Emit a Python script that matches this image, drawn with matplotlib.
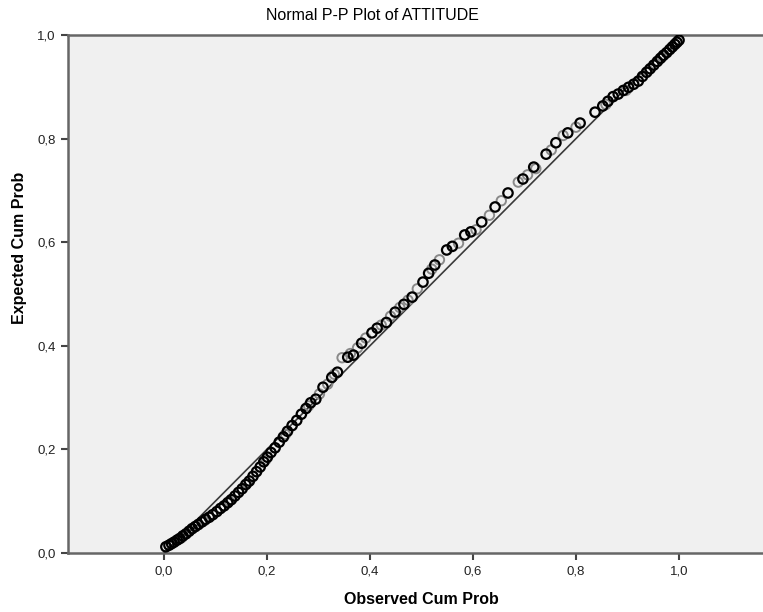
import matplotlib
matplotlib.use('Agg')
import matplotlib.pyplot as plt
from matplotlib.ticker import FixedLocator, FuncFormatter

plt.rcParams['font.family'] = ['Liberation Sans', 'DejaVu Sans']

# observed / expected cumulative probabilities
obs = [0.004, 0.010, 0.015, 0.020, 0.026, 0.031, 0.037, 0.043, 0.049, 0.055,
       0.061, 0.067, 0.074, 0.081, 0.088, 0.095, 0.103, 0.110, 0.117, 0.124,
       0.131, 0.138, 0.145, 0.152, 0.159, 0.166, 0.173, 0.180, 0.187, 0.194,
       0.201, 0.208, 0.216, 0.224, 0.232, 0.240, 0.249, 0.258, 0.267, 0.276,
       0.285, 0.295, 0.309, 0.326, 0.337, 0.357, 0.368, 0.384, 0.404, 0.414,
       0.432, 0.449, 0.466, 0.482, 0.503, 0.514, 0.526, 0.549, 0.560, 0.584,
       0.596, 0.617, 0.643, 0.668, 0.697, 0.718, 0.742, 0.761, 0.784, 0.808,
       0.837, 0.852, 0.862, 0.872, 0.882, 0.892, 0.902, 0.912, 0.921, 0.929,
       0.937, 0.944, 0.951, 0.958, 0.964, 0.970, 0.976, 0.982, 0.987, 0.992,
       0.996, 1.000]
exp = [0.012, 0.015, 0.018, 0.021, 0.025, 0.028, 0.033, 0.037, 0.042, 0.047,
       0.051, 0.055, 0.060, 0.065, 0.069, 0.074, 0.080, 0.086, 0.091, 0.097,
       0.103, 0.110, 0.117, 0.124, 0.132, 0.139, 0.148, 0.157, 0.166, 0.176,
       0.185, 0.194, 0.203, 0.214, 0.224, 0.235, 0.246, 0.256, 0.268, 0.279,
       0.290, 0.297, 0.320, 0.339, 0.349, 0.378, 0.382, 0.405, 0.425, 0.434,
       0.445, 0.465, 0.480, 0.494, 0.523, 0.540, 0.556, 0.585, 0.592, 0.614,
       0.620, 0.639, 0.668, 0.695, 0.722, 0.745, 0.770, 0.792, 0.811, 0.830,
       0.851, 0.863, 0.872, 0.881, 0.886, 0.893, 0.899, 0.905, 0.911, 0.920,
       0.928, 0.935, 0.942, 0.949, 0.955, 0.961, 0.966, 0.972, 0.977, 0.982,
       0.986, 0.990]

# fainter overlapping cases
obs_light = [0.035, 0.078, 0.127, 0.162, 0.198, 0.236, 0.281, 0.302, 0.318,
             0.331, 0.346, 0.362, 0.376, 0.392, 0.422, 0.440, 0.458, 0.474,
             0.492, 0.520, 0.535, 0.572, 0.606, 0.632, 0.655, 0.688, 0.706,
             0.722, 0.752, 0.775, 0.800, 0.858, 0.897, 0.940, 0.967]
exp_light = [0.030, 0.062, 0.100, 0.135, 0.180, 0.229, 0.284, 0.307, 0.326,
             0.345, 0.377, 0.385, 0.396, 0.415, 0.440, 0.457, 0.474, 0.488,
             0.510, 0.548, 0.566, 0.598, 0.624, 0.652, 0.680, 0.716, 0.730,
             0.742, 0.778, 0.806, 0.822, 0.866, 0.893, 0.931, 0.958]

ticks = [0.0, 0.2, 0.4, 0.6, 0.8, 1.0]

fig = plt.figure(figsize=(7.63, 6.12), dpi=100)
ax = fig.add_axes([68 / 763, 59 / 612, 1 - 68 / 763, 518 / 612])
ax.set_facecolor('#f0f0f0')

ax.plot([0, 1], [0, 1], color='#3a3a3a', linewidth=1.2, zorder=2)
ax.scatter(obs_light, exp_light, s=46, facecolors='none', edgecolors='#8a8a8a',
           linewidths=1.4, zorder=3)
ax.scatter(obs, exp, s=46, facecolors='none', edgecolors='black',
           linewidths=1.6, zorder=4)

ax.set_xlim(-0.186, 1.163)
ax.set_ylim(0, 1)
ax.xaxis.set_major_locator(FixedLocator(ticks))
ax.yaxis.set_major_locator(FixedLocator(ticks))
fmt = FuncFormatter(lambda v, p: f'{v:.1f}'.replace('.', ','))
ax.xaxis.set_major_formatter(fmt)
ax.yaxis.set_major_formatter(fmt)
ax.tick_params(direction='out', length=5, width=1.5, color='#444444',
               labelsize=9.5, labelcolor='#222222', pad=4)

for side in ['left', 'top', 'bottom']:
    ax.spines[side].set_color('#666666')
    ax.spines[side].set_linewidth(1.8)
ax.spines['right'].set_visible(False)

fig.text(372 / 763, 1 - 15 / 612, 'Normal P-P Plot of ATTITUDE', ha='center',
         va='center', fontsize=11.5)
fig.text(421 / 763, 1 - 600 / 612, 'Observed Cum Prob', ha='center',
         va='center', fontsize=11.5, fontweight='bold')
fig.text(20 / 763, 1 - 248 / 612, 'Expected Cum Prob', ha='center',
         va='center', rotation=90, fontsize=11.5, fontweight='bold')

fig.savefig('out.png', dpi=100)
